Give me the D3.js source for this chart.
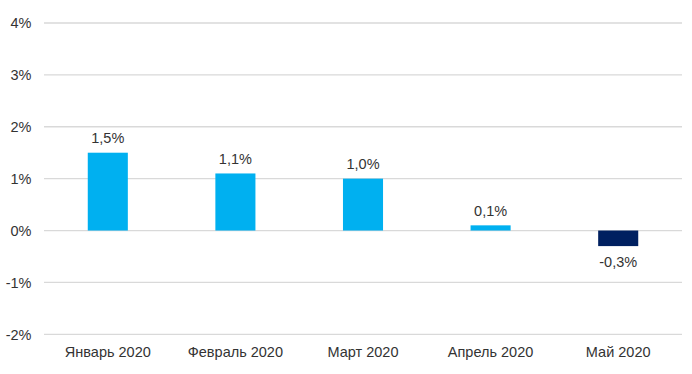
<!DOCTYPE html>
<html><head><meta charset="utf-8">
<script src="https://cdn.jsdelivr.net/npm/d3@7"></script>
<style>body{margin:0;background:#fff}svg{display:block}text{font-family:"Liberation Sans",Arial,sans-serif;fill:#333}</style>
</head><body><svg id="c" width="692" height="374"></svg>
<script>
const categories = ["Январь 2020","Февраль 2020","Март 2020","Апрель 2020","Май 2020"];
const values = [1.5, 1.1, 1.0, 0.1, -0.3];
const valueLabels = ["1,5%","1,1%","1,0%","0,1%","-0,3%"];
const yTicks = [-2,-1,0,1,2,3,4];

const svg = d3.select("#c");
const x = d3.scaleBand().domain(categories).range([44,682]).paddingInner(0.686).paddingOuter(0.343);
const y = d3.scaleLinear().domain([-2,4]).range([334.3,23]);

// gridlines
svg.append("g").selectAll("line").data(yTicks).join("line")
  .attr("x1",44).attr("x2",682)
  .attr("y1",d=>y(d)).attr("y2",d=>y(d))
  .attr("stroke","#d9d9d9").attr("stroke-width",1.3);

// y labels
svg.append("g").selectAll("text").data(yTicks).join("text")
  .attr("x",31.5).attr("y",d=>y(d)).attr("dy","0.36em")
  .attr("text-anchor","end").attr("font-size",14.5)
  .text(d=>d+"%");

// bars
svg.append("g").selectAll("rect").data(values).join("rect")
  .attr("x",(d,i)=>x(categories[i])).attr("width",x.bandwidth())
  .attr("y",d=>y(Math.max(0,d))).attr("height",d=>Math.abs(y(d)-y(0)))
  .attr("fill",d=>d<0?"#002060":"#00B0F0");

// value labels
svg.append("g").selectAll("text").data(values).join("text")
  .attr("x",(d,i)=>x(categories[i])+x.bandwidth()/2)
  .attr("y",d=>d>=0? y(d)-9.5 : y(d)+20.5)
  .attr("text-anchor","middle").attr("font-size",14.5)
  .text((d,i)=>valueLabels[i]);

// x labels
svg.append("g").selectAll("text").data(categories).join("text")
  .attr("x",d=>x(d)+x.bandwidth()/2).attr("y",356.5)
  .attr("text-anchor","middle").attr("font-size",14.5)
  .text(d=>d);
</script></body></html>
